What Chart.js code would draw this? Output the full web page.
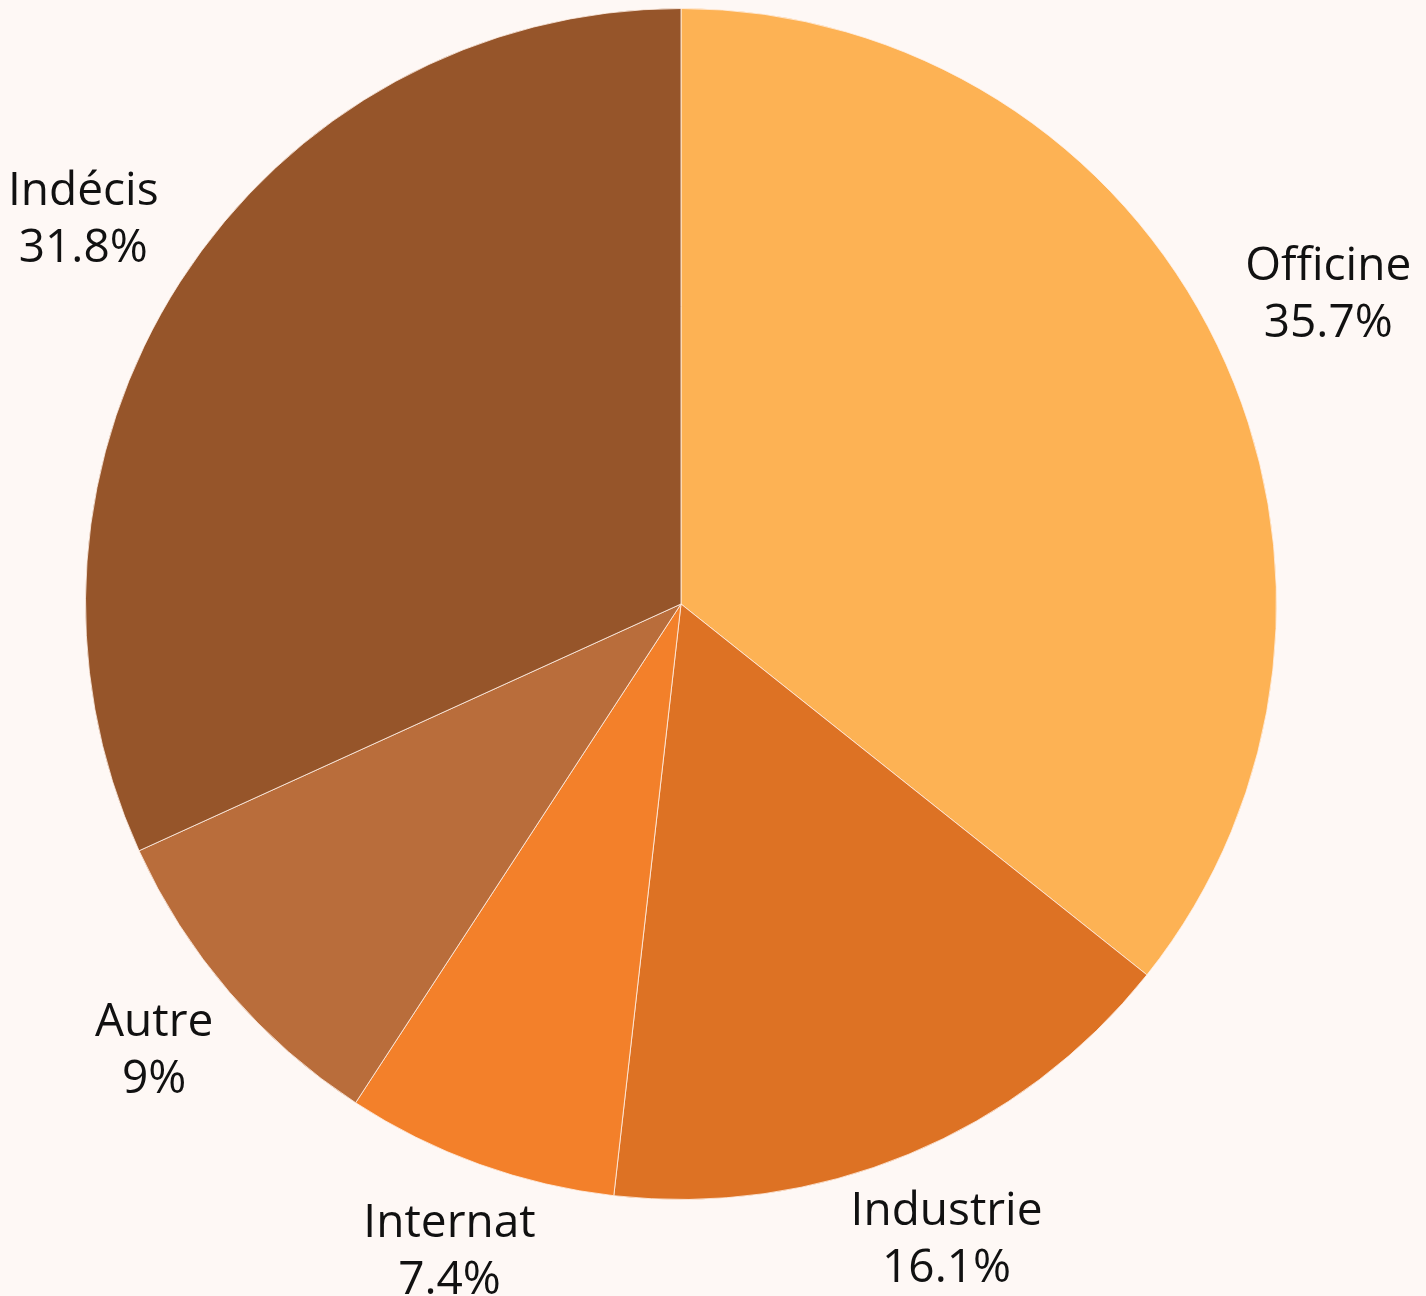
<!DOCTYPE html>
<html>
<head>
<meta charset="utf-8">
<script src="https://cdn.jsdelivr.net/npm/chart.js@4.4.1/dist/chart.umd.min.js"></script>
<style>
  html, body { margin: 0; padding: 0; background: #fef8f5; }
  #wrap { width: 1426px; height: 1296px; position: relative; }
</style>
</head>
<body>
<div id="wrap"><canvas id="pieChart"></canvas></div>
<script>
const labels = ["Officine", "Industrie", "Internat", "Autre", "Indécis"];
const shares = [35.7, 16.1, 7.4, 9, 31.8];
const sliceColours = ["#fdb254", "#dd7224", "#f3802a", "#b96d3b", "#96552a"];

const fontSize = 46;
const lineGap = 57;

// draws "name / value%" outside each slice
const outsideLabels = {
  id: "outsideLabels",
  afterDraw(chart) {
    const ctx = chart.ctx;
    const meta = chart.getDatasetMeta(0);
    ctx.save();
    ctx.font = `${fontSize}px "Open Sans", "Noto Sans", sans-serif`;
    ctx.fillStyle = "#111111";
    ctx.textAlign = "center";
    ctx.textBaseline = "alphabetic";
    meta.data.forEach((arc, i) => {
      const { x, y, startAngle, endAngle, outerRadius } = arc.getProps(
        ["x", "y", "startAngle", "endAngle", "outerRadius"], true
      );
      const mid = (startAngle + endAngle) / 2;
      const cos = Math.cos(mid);
      const sin = Math.sin(mid);
      const line1 = labels[i];
      const line2 = shares[i] + "%";
      const halfW = Math.max(ctx.measureText(line1).width, ctx.measureText(line2).width) / 2;
      const halfH = 61;
      const r = outerRadius + 40;
      const k = Math.min(1, 0.15 + Math.abs(cos) * 1.2); // pull bottom labels in a bit
      const cx = x + cos * r + cos * halfW * k;
      const cy = y + sin * r + sin * halfH;
      ctx.fillText(line1, cx, cy - 22);
      ctx.fillText(line2, cx, cy - 22 + lineGap);
    });
    ctx.restore();
  },
};

new Chart(document.getElementById("pieChart"), {
  type: "pie",
  data: {
    labels: labels,
    datasets: [
      {
        data: shares,
        backgroundColor: sliceColours,
        borderColor: "rgba(255,240,230,0.8)",
        borderWidth: 1,
      },
    ],
  },
  options: {
    responsive: true,
    maintainAspectRatio: false,
    animation: false,
    layout: { padding: { top: 8, bottom: 96, left: 0, right: 64 } },
    plugins: {
      legend: { display: false },
      tooltip: { enabled: false },
    },
  },
  plugins: [outsideLabels],
});
</script>
</body>
</html>
